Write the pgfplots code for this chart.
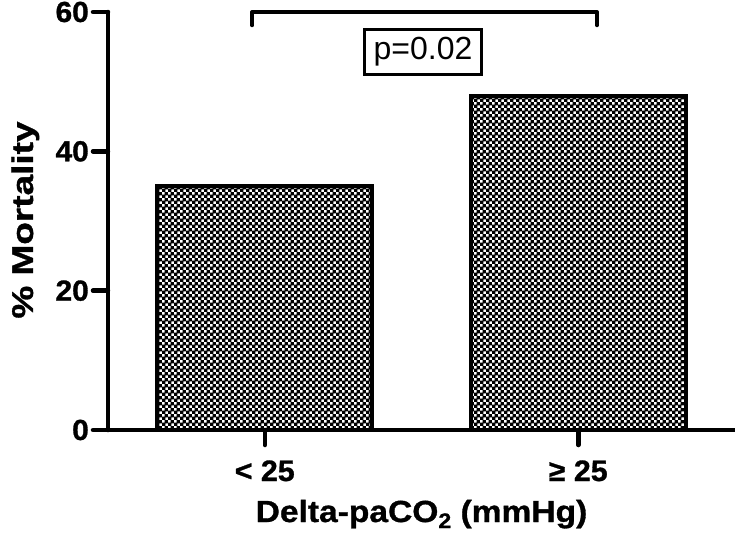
\documentclass[border=0pt]{standalone}
\usepackage{pgfplots}
\pgfplotsset{compat=1.18}
\usepackage{fontspec}
\setmainfont{Liberation Sans}
\newfontfamily\widebf{Liberation Sans}[FakeStretch=1.1, FakeBold=1]
\newfontfamily\tickbf{Liberation Sans}[FakeStretch=1.03, FakeBold=1]
\usetikzlibrary{patterns}
\pgfdeclarepatternformonly{mychecker}{\pgfpointorigin}{\pgfqpoint{6pt}{6pt}}{\pgfqpoint{6pt}{6pt}}{%
  \pgfpathrectangle{\pgfpointorigin}{\pgfqpoint{3.8pt}{3.8pt}}%
  \pgfpathrectangle{\pgfqpoint{3pt}{3pt}}{\pgfqpoint{3.8pt}{3.8pt}}%
  \pgfusepath{fill}}
\begin{document}
\begin{tikzpicture}
\path[use as bounding box] (-108pt,-103pt) rectangle (627pt,430pt);
\begin{axis}[
  at={(0,0)}, anchor=south west,
  scale only axis, width=627pt, height=418pt,
  xmin=0.5, xmax=2.5, ymin=0, ymax=60,
  axis x line=bottom, axis y line=left,
  axis line style={-, line width=4.5pt, line cap=round},
  xtick={1,2}, xticklabels={{< 25},{≥ 25}},
  ytick={0,20,40,60},
  tick align=outside,
  major tick length=15pt,
  tick style={line width=4.5pt, line cap=round, black},
  /pgf/number format/assume math mode=true,
  yticklabel style={font=\tickbf\fontsize{29}{32}\selectfont\bfseries, inner sep=0pt, anchor=east, xshift=-4pt},
  xticklabel style={font=\tickbf\fontsize{29.5}{32}\selectfont\bfseries, inner sep=0pt, anchor=base, yshift=-36pt},
  xlabel={Delta-paCO\raisebox{-6pt}{\fontsize{21}{24}\selectfont 2} (mmHg)},
  ylabel={\scalebox{1.12}[1]{\% Mortality}},
  xlabel style={font=\widebf\fontsize{30.5}{34}\selectfont\bfseries, at={(axis description cs:0.5,0)}, anchor=base, yshift=-92pt, inner sep=0pt},
  ylabel style={font=\widebf\fontsize{30}{34}\selectfont\bfseries, at={(axis description cs:0,0.5)}, anchor=base, yshift=75pt, xshift=1pt, inner sep=0pt},
  clip=false,
]
\addplot[ybar, bar width=0.686, draw=black, line width=4pt, pattern=mychecker, pattern color=black]
  coordinates {(1,35) (2,48)};
\addplot[black, line width=4pt, line cap=round, line join=round]
  coordinates {(0.96,58.1) (0.96,60) (2.06,60) (2.06,58.1)};
\node[draw=black, line width=3pt, fill=white, inner xsep=9pt, inner ysep=8pt,
      font=\fontsize{32}{36}\selectfont] at (axis cs:1.505,54.3) {p=0.02};
\end{axis}
\end{tikzpicture}
\end{document}
